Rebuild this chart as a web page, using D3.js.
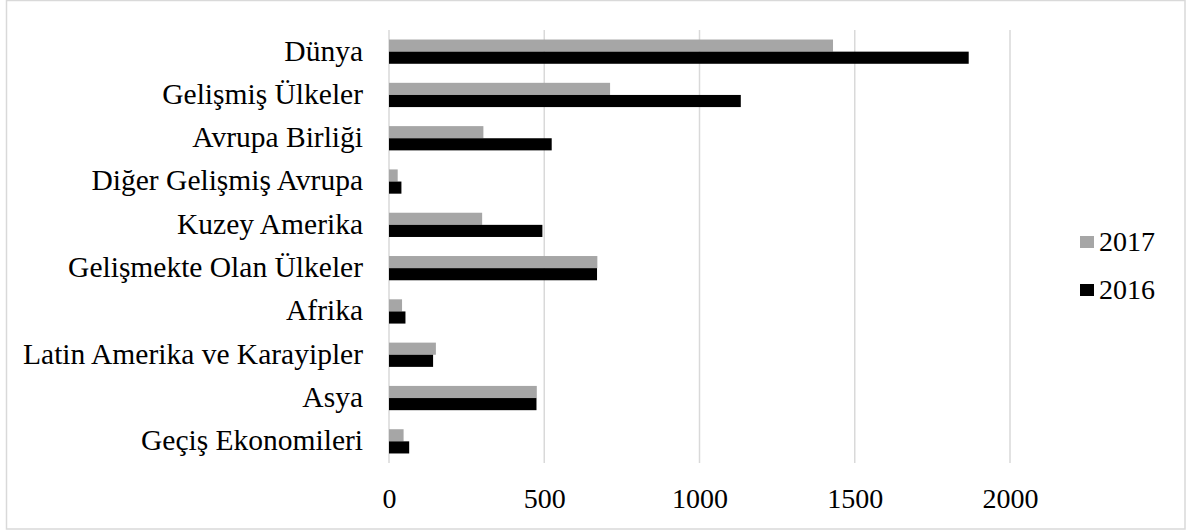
<!DOCTYPE html>
<html>
<head>
<meta charset="utf-8">
<script src="https://cdn.jsdelivr.net/npm/d3@7"></script>
<style>
  html, body { margin: 0; padding: 0; background: #fff; }
  svg { display: block; }
  text { font-family: "Liberation Serif", "Times New Roman", serif; fill: #000; }
</style>
</head>
<body>
<svg id="chart" width="1189" height="531"></svg>
<script>
// FDI flows by region (billion $)
const categories = [
  "Dünya",
  "Gelişmiş Ülkeler",
  "Avrupa Birliği",
  "Diğer Gelişmiş Avrupa",
  "Kuzey Amerika",
  "Gelişmekte Olan Ülkeler",
  "Afrika",
  "Latin Amerika ve Karayipler",
  "Asya",
  "Geçiş Ekonomileri"
];
const values2017 = [1430, 712, 304, 28, 300, 671, 42, 151, 476, 47];
const values2016 = [1867, 1133, 524, 40, 494, 670, 53, 142, 475, 65];
const seriesNames = ["2017", "2016"];
const seriesColors = ["#a6a6a6", "#000000"];
const xTicks = [0, 500, 1000, 1500, 2000];

const svg = d3.select("#chart");

// outer frame
svg.append("rect")
  .attr("x", 6.5).attr("y", 0.5)
  .attr("width", 1178.5).attr("height", 528.5)
  .attr("fill", "none").attr("stroke", "#d9d9d9").attr("stroke-width", 1.5);

const plot = { left: 389, right: 1010, top: 30, bottom: 463 };

const x = d3.scaleLinear().domain([0, 2000]).range([plot.left, plot.right]);
const y = d3.scaleBand().domain(categories).range([plot.top, plot.bottom]).paddingInner(0.44).paddingOuter(0.22);
const inner = d3.scaleBand().domain(seriesNames).range([0, y.bandwidth()]);

// vertical gridlines
svg.append("g")
  .selectAll("line")
  .data(xTicks)
  .join("line")
  .attr("x1", d => x(d)).attr("x2", d => x(d))
  .attr("y1", plot.top).attr("y2", plot.bottom)
  .attr("stroke", "#d9d9d9").attr("stroke-width", 1.5);

// bottom axis labels
const xAxis = d3.axisBottom(x).tickValues(xTicks).tickSize(0).tickPadding(0).tickFormat(d3.format("d"));
const gx = svg.append("g").attr("transform", `translate(0, ${plot.bottom + 45})`).call(xAxis);
gx.select(".domain").remove();
gx.selectAll("text")
  .attr("dy", 0).attr("y", 0)
  .style("font-family", "'Liberation Serif', 'Times New Roman', serif")
  .style("font-size", "28px").attr("fill", "#000");

// category labels
const yAxis = d3.axisLeft(y).tickSize(0).tickPadding(0);
const gy = svg.append("g").attr("transform", `translate(${plot.left - 26}, 0)`).call(yAxis);
gy.select(".domain").remove();
gy.selectAll("text")
  .attr("dy", "0.3em")
  .style("font-family", "'Liberation Serif', 'Times New Roman', serif")
  .style("font-size", "29.5px").attr("fill", "#000");

// bars
const rows = categories.map((c, i) => ({ cat: c, vals: [values2017[i], values2016[i]] }));
const groups = svg.append("g").selectAll("g")
  .data(rows).join("g")
  .attr("transform", d => `translate(0, ${y(d.cat)})`);
groups.selectAll("rect")
  .data(d => d.vals.map((v, j) => ({ key: seriesNames[j], v, color: seriesColors[j] })))
  .join("rect")
  .attr("x", x(0))
  .attr("y", d => inner(d.key))
  .attr("width", d => x(d.v) - x(0))
  .attr("height", inner.bandwidth())
  .attr("fill", d => d.color);

// legend
const legend = svg.append("g").selectAll("g")
  .data(seriesNames).join("g")
  .attr("transform", (d, i) => `translate(1080, ${242 + i * 48})`);
legend.append("rect")
  .attr("x", 0).attr("y", -6).attr("width", 14).attr("height", 12)
  .attr("fill", (d, i) => seriesColors[i]);
legend.append("text")
  .attr("x", 19).attr("y", 9)
  .style("font-size", "28px")
  .text(d => d);
</script>
</body>
</html>
